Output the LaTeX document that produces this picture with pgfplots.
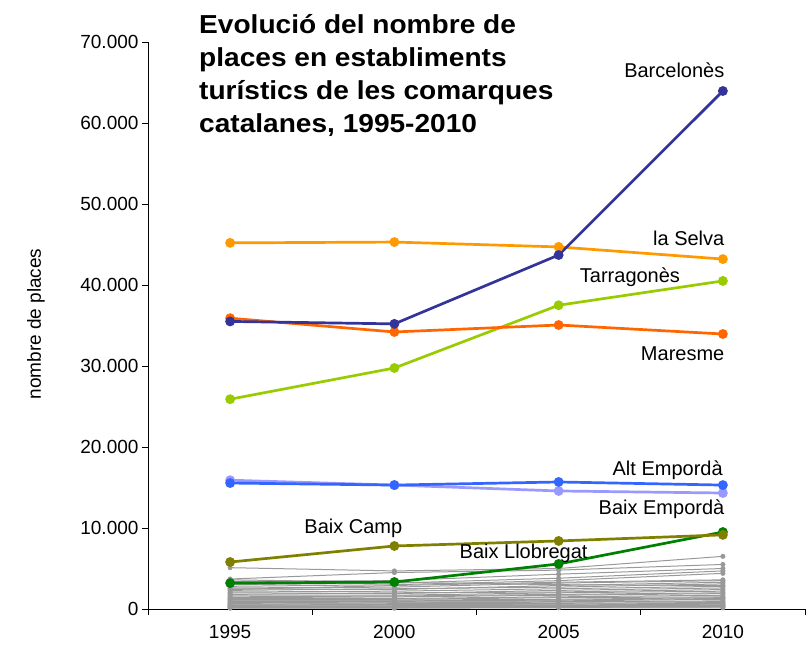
\documentclass[border=0pt]{standalone}
\usepackage{fontspec}
\setmainfont{Liberation Sans}
\newfontfamily\titlefont{Liberation Sans}[FakeStretch=1.08]
\usepackage{pgfplots}
\pgfplotsset{compat=1.18}
\definecolor{cBcn}{HTML}{333399}
\definecolor{cSel}{HTML}{FF9900}
\definecolor{cTgn}{HTML}{99CC00}
\definecolor{cMar}{HTML}{FF6600}
\definecolor{cAE}{HTML}{3366FF}
\definecolor{cBE}{HTML}{9999FF}
\definecolor{cBC}{HTML}{808000}
\definecolor{cBL}{HTML}{008000}
\definecolor{cGr}{HTML}{999999}
\begin{document}
\begin{tikzpicture}[x=1bp,y=1bp]
\useasboundingbox (0,0) rectangle (811,649);
\begin{axis}[
  at={(148bp,40bp)}, anchor=south west,
  width=657bp, height=567bp, scale only axis,
  xmin=-0.5, xmax=3.5, ymin=0, ymax=70000,
  axis x line*=bottom, axis y line*=left,
  axis line style={-, black, line width=0.8bp},
  tick style={black, line width=0.8bp},
  tick align=outside, major tick length=6bp,
  xtick={-0.5,0.5,1.5,2.5,3.5}, xticklabels={},
  extra x ticks={0,1,2,3}, extra x tick labels={1995,2000,2005,2010},
  extra x tick style={major tick length=0pt, xticklabel style={yshift=-13bp}},
  ytick={0,10000,...,70000},
  scaled y ticks=false,
  yticklabel style={/pgf/number format/.cd, 1000 sep={.}, assume math mode=true},
  ticklabel style={font=\fontsize{19bp}{22bp}\selectfont},
  clip=false,
  gl/.style={color=cGr, line width=1bp, mark=*, mark size=2bp, mark options={solid, fill=cGr}},
  cl/.style={color=#1, line width=2.7bp, mark=*, mark size=3.5bp, mark options={solid, fill=#1}},
]
% grey comarques
\addplot[gl] coordinates {(0,5100)(1,4700)(2,5000)(3,6500)};
\addplot[gl] coordinates {(0,3700)(1,4500)(2,4800)(3,5500)};
\addplot[gl] coordinates {(0,3400)(1,3500)(2,4300)(3,5000)};
\addplot[gl] coordinates {(0,3000)(1,3200)(2,3800)(3,4700)};
\addplot[gl] coordinates {(0,2800)(1,3000)(2,3500)(3,4400)};
\addplot[gl] coordinates {(0,3600)(1,3300)(2,3000)(3,2900)};
\addplot[gl] coordinates {(0,2400)(1,2900)(2,3300)(3,3600)};
\addplot[gl] coordinates {(0,2600)(1,2700)(2,3200)(3,3500)};
\addplot[gl] coordinates {(0,2500)(1,2400)(2,2900)(3,3300)};
\addplot[gl] coordinates {(0,2300)(1,2500)(2,2700)(3,3100)};
\addplot[gl] coordinates {(0,2100)(1,2200)(2,2500)(3,2800)};
\addplot[gl] coordinates {(0,2000)(1,1900)(2,2300)(3,2600)};
\addplot[gl] coordinates {(0,1800)(1,2000)(2,2100)(3,2400)};
\addplot[gl] coordinates {(0,1700)(1,1700)(2,2000)(3,2200)};
\addplot[gl] coordinates {(0,1500)(1,1600)(2,1800)(3,2000)};
\addplot[gl] coordinates {(0,1400)(1,1500)(2,1700)(3,1900)};
\addplot[gl] coordinates {(0,1300)(1,1300)(2,1500)(3,1700)};
\addplot[gl] coordinates {(0,1200)(1,1200)(2,1400)(3,1500)};
\addplot[gl] coordinates {(0,1100)(1,1100)(2,1200)(3,1400)};
\addplot[gl] coordinates {(0,1000)(1,1000)(2,1100)(3,1300)};
\addplot[gl] coordinates {(0,900)(1,950)(2,1000)(3,1200)};
\addplot[gl] coordinates {(0,800)(1,850)(2,900)(3,1000)};
\addplot[gl] coordinates {(0,700)(1,750)(2,850)(3,900)};
\addplot[gl] coordinates {(0,600)(1,650)(2,700)(3,800)};
\addplot[gl] coordinates {(0,500)(1,550)(2,600)(3,700)};
\addplot[gl] coordinates {(0,450)(1,500)(2,500)(3,600)};
\addplot[gl] coordinates {(0,400)(1,400)(2,450)(3,500)};
\addplot[gl] coordinates {(0,300)(1,350)(2,400)(3,450)};
\addplot[gl] coordinates {(0,250)(1,300)(2,300)(3,350)};
\addplot[gl] coordinates {(0,200)(1,200)(2,250)(3,300)};
\addplot[gl] coordinates {(0,150)(1,150)(2,200)(3,250)};
\addplot[gl] coordinates {(0,100)(1,100)(2,150)(3,150)};
% highlighted comarques
\addplot[cl=cBL] coordinates {(0,3200)(1,3330)(2,5560)(3,9500)};
\addplot[cl=cBC] coordinates {(0,5800)(1,7780)(2,8400)(3,9150)};
\addplot[cl=cBE] coordinates {(0,15900)(1,15300)(2,14570)(3,14320)};
\addplot[cl=cAE] coordinates {(0,15550)(1,15300)(2,15680)(3,15300)};
\addplot[cl=cTgn] coordinates {(0,25900)(1,29750)(2,37500)(3,40500)};
\addplot[cl=cMar] coordinates {(0,35900)(1,34200)(2,35060)(3,33950)};
\addplot[cl=cSel] coordinates {(0,45200)(1,45300)(2,44700)(3,43200)};
\addplot[cl=cBcn] coordinates {(0,35500)(1,35200)(2,43700)(3,63950)};
% labels
\begin{scope}[every node/.style={font=\fontsize{20bp}{24bp}\selectfont, inner sep=0pt}]
\node[anchor=east] at (axis cs:3.01,66540) {Barcelonès};
\node[anchor=east] at (axis cs:3.01,45800) {la Selva};
\node[anchor=east] at (axis cs:2.74,40990) {Tarragonès};
\node[anchor=east] at (axis cs:3.01,31480) {Maresme};
\node[anchor=east] at (axis cs:3.0,17160) {Alt Empordà};
\node[anchor=east] at (axis cs:3.01,12350) {Baix Empordà};
\node at (axis cs:0.75,10000) {Baix Camp};
\node at (axis cs:1.787,6910) {Baix Llobregat};
\end{scope}
\end{axis}
\node[rotate=90, font=\fontsize{19bp}{22bp}\selectfont, inner sep=0pt] at (36,325) {nombre de places};
\begin{scope}[every node/.style={anchor=base west, inner sep=0pt, font=\fontsize{26bp}{32bp}\titlefont\bfseries}]
\node at (199,615) {Evolució del nombre de};
\node at (199,582) {places en establiments};
\node at (199,549) {turístics de les comarques};
\node at (199,516) {catalanes, 1995-2010};
\end{scope}
\end{tikzpicture}
\end{document}
